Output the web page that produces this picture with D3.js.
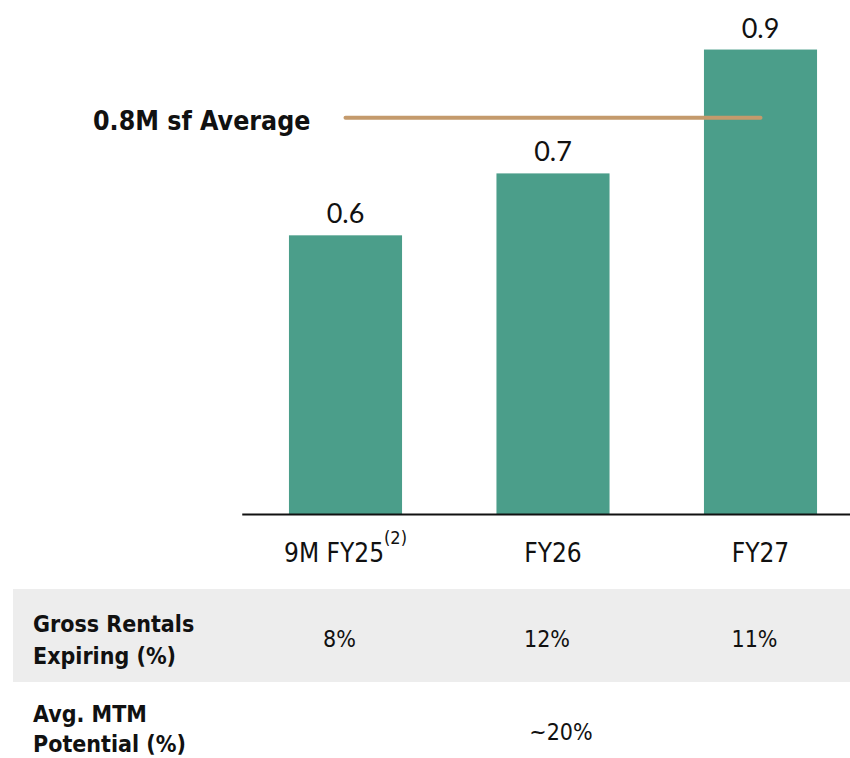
<!DOCTYPE html>
<html>
<head>
<meta charset="utf-8">
<script src="https://cdn.jsdelivr.net/npm/d3@7"></script>
<style>
  body { margin: 0; background: #fff; }
  text { fill: #111; }
</style>
</head>
<body>
<script>
// lease expiries, M sf
const categories = ["9M FY25", "FY26", "FY27"];
const footnotes = ["(2)", "", ""];
const areaValues = [0.6, 0.7, 0.9];
const averageValue = 0.79;   // line as drawn in the picture
const averageLabel = "0.8M sf Average";

// table under the chart
const rowLabels = [["Gross Rentals", "Expiring (%)"], ["Avg. MTM", "Potential (%)"]];
const grossRentals = ["8%", "12%", "11%"];
const mtmPotential = "~20%";

const width = 850, height = 758;
const condensed = "'DejaVu Sans Condensed', 'DejaVu Sans', sans-serif";

const svg = d3.select("body").append("svg")
    .attr("width", width)
    .attr("height", height);

const x = d3.scaleBand()
    .domain(categories)
    .range([241.75, 864.25])
    .paddingInner(0.455)
    .paddingOuter(0.2275);

const y = d3.scaleLinear()
    .domain([0.15, 0.98])
    .range([514, 0]);

const cx = d => x(d) + x.bandwidth() / 2;

// bars
svg.append("g")
    .attr("fill", "#4b9e8a")
  .selectAll("rect")
  .data(areaValues)
  .join("rect")
    .attr("x", (d, i) => x(categories[i]))
    .attr("y", d => y(d))
    .attr("width", x.bandwidth())
    .attr("height", d => y.range()[0] - y(d));

// value labels
svg.append("g")
  .selectAll("text")
  .data(areaValues)
  .join("text")
    .attr("x", (d, i) => cx(categories[i]))
    .attr("y", d => y(d) - 12)
    .attr("text-anchor", "middle")
    .style("font-family", "Lato, sans-serif")
    .style("font-size", "27px")
    .text(d => d3.format(".1f")(d));

// average line
svg.append("line")
    .attr("x1", cx(categories[0]))
    .attr("x2", cx(categories[categories.length - 1]))
    .attr("y1", y(averageValue))
    .attr("y2", y(averageValue))
    .attr("stroke", "#c49a6c")
    .attr("stroke-width", 4)
    .attr("stroke-linecap", "round");

svg.append("text")
    .attr("x", 93)
    .attr("y", y(averageValue) + 12)
    .style("font-family", condensed)
    .style("font-weight", "bold")
    .style("font-size", "26.5px")
    .text(averageLabel);

// x axis
const axis = svg.append("g")
    .attr("transform", `translate(0,${y.range()[0]})`)
    .call(d3.axisBottom(x).tickSize(0).tickPadding(0));

axis.select(".domain")
    .attr("stroke", "#111")
    .attr("stroke-width", 2);

axis.selectAll(".tick text")
    .attr("y", 48)
    .attr("dy", 0)
    .style("font-family", condensed)
    .style("font-size", "26px")
    .attr("fill", "#111")
    .each(function(d, i) {
      if (footnotes[i]) {
        d3.select(this).append("tspan")
            .attr("dy", -18)
            .style("font-size", "18px")
            .text(footnotes[i]);
      }
    });

// table
const table = svg.append("g");

table.append("rect")
    .attr("x", 13)
    .attr("y", 589)
    .attr("width", width - 13)
    .attr("height", 93)
    .attr("fill", "#ededed");

const rowBaselines = [[632, 664], [722, 752]];
rowLabels.forEach((lines, r) => {
  table.append("g")
    .selectAll("text")
    .data(lines)
    .join("text")
      .attr("x", 33)
      .attr("y", (d, i) => rowBaselines[r][i])
      .style("font-family", condensed)
      .style("font-weight", "bold")
      .style("font-size", "23px")
      .text(d => d);
});

table.append("g")
  .selectAll("text")
  .data(grossRentals)
  .join("text")
    .attr("x", (d, i) => cx(categories[i]) - 6)
    .attr("y", 647)
    .attr("text-anchor", "middle")
    .style("font-family", condensed)
    .style("font-size", "23px")
    .text(d => d);

table.append("text")
    .attr("x", cx(categories[1]) + 8)
    .attr("y", 740)
    .attr("text-anchor", "middle")
    .style("font-family", condensed)
    .style("font-size", "23px")
    .text(mtmPotential);
</script>
</body>
</html>
